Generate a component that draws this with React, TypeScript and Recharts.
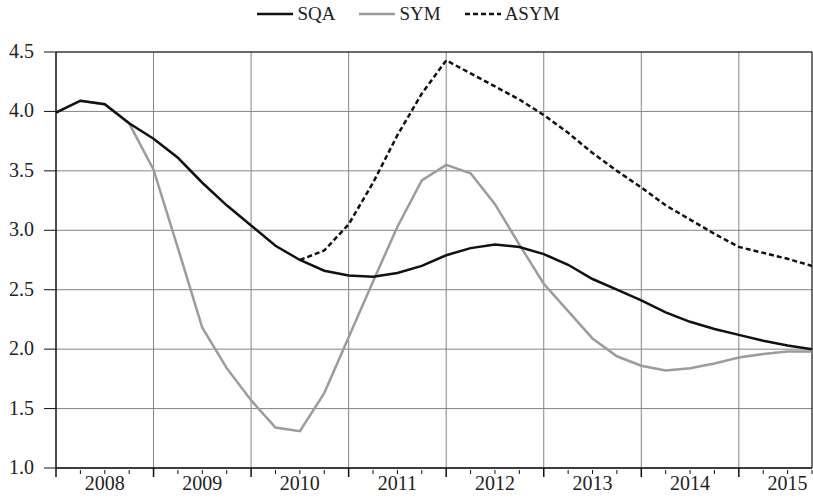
import React from 'react';
import { LineChart, Line, XAxis, YAxis, CartesianGrid, ReferenceLine } from 'recharts';

// quarterly observations, 2008Q1 .. 2015Q4
const quarters = Array.from({ length: 32 }, (_, i) => i);
const years = ['2008', '2009', '2010', '2011', '2012', '2013', '2014', '2015'];

const sqa = [
  3.99, 4.09, 4.06, 3.9, 3.77, 3.61, 3.4, 3.21, 3.04, 2.87, 2.75, 2.66, 2.62, 2.61, 2.64, 2.7,
  2.79, 2.85, 2.88, 2.86, 2.8, 2.71, 2.59, 2.5, 2.41, 2.31, 2.23, 2.17, 2.12, 2.07, 2.03, 2.0,
];
const sym = [
  3.99, 4.09, 4.06, 3.9, 3.51, 2.85, 2.18, 1.84, 1.57, 1.34, 1.31, 1.63, 2.1, 2.57, 3.03, 3.42,
  3.55, 3.48, 3.22, 2.88, 2.55, 2.32, 2.09, 1.94, 1.86, 1.82, 1.84, 1.88, 1.93, 1.96, 1.98, 1.98,
];
const asym = [
  null, null, null, null, null, null, null, null, null, null, 2.75, 2.83, 3.05, 3.4, 3.8, 4.15,
  4.43, 4.32, 4.21, 4.1, 3.97, 3.82, 3.65, 3.5, 3.36, 3.21, 3.09, 2.97, 2.86, 2.81, 2.76, 2.7,
];

const yTicks = [1.0, 1.5, 2.0, 2.5, 3.0, 3.5, 4.0, 4.5];
const yearLines = [4, 8, 12, 16, 20, 24, 28];

const data = quarters.map((q) => ({ q, SQA: sqa[q], SYM: sym[q], ASYM: asym[q] }));

const FONT = '"Liberation Serif", "DejaVu Serif", serif';
const GRID = '#858585';

const XTick = ({ x, y, payload }: any) => {
  const q = payload.value;
  const major = q % 4 === 0;
  return (
    <g>
      <line x1={x} x2={x} y1={major ? y : y + 2} y2={major ? y + 9 : y + 6} stroke="#111" strokeWidth={major ? 1.5 : 1} />
      {q % 4 === 2 && (
        <text x={x} y={y + 22} textAnchor="middle" fontFamily={FONT} fontSize={20} fill="#222">
          {years[Math.floor(q / 4)]}
        </text>
      )}
    </g>
  );
};

const YTick = ({ x, y, payload }: any) => (
  <g>
    <line x1={x - 12} x2={x} y1={y} y2={y} stroke="#111" strokeWidth={1} />
    <text x={x - 22} y={y + 6} textAnchor="end" fontFamily={FONT} fontSize={20} fill="#222">
      {payload.value.toFixed(1)}
    </text>
  </g>
);

const LegendBar = () => (
  <div
    style={{
      position: 'absolute', top: 3, left: 0, width: 813, display: 'flex', justifyContent: 'center',
      fontFamily: FONT, fontSize: 19, color: '#222', lineHeight: '22px', paddingLeft: 14,
    }}
  >
    {[
      { name: 'SQA', color: '#111', dash: undefined },
      { name: 'SYM', color: '#9c9c9c', dash: undefined },
      { name: 'ASYM', color: '#111', dash: '5 3' },
    ].map((s) => (
      <span key={s.name} style={{ display: 'flex', alignItems: 'center', marginRight: 24 }}>
        <svg width={36} height={10} style={{ marginRight: 4 }}>
          <line x1={0} x2={36} y1={5} y2={5} stroke={s.color} strokeWidth={2.5} strokeDasharray={s.dash} />
        </svg>
        {s.name}
      </span>
    ))}
  </div>
);

export default function App() {
  return (
    <div style={{ position: 'absolute', left: 0, top: 0, width: 813, height: 500, background: '#fff' }}>
      <LegendBar />
      <LineChart width={813} height={500} data={data} margin={{ top: 52, right: 1, bottom: 0, left: 0 }}>
        <CartesianGrid vertical={false} stroke={GRID} horizontalValues={yTicks} />
        {yearLines.map((q) => (
          <ReferenceLine key={q} x={q} stroke={GRID} strokeWidth={1} />
        ))}
        <ReferenceLine y={4.5} stroke="#111" strokeWidth={1.2} />
        <ReferenceLine x={31} stroke="#111" strokeWidth={1.2} />
        <XAxis
          type="number"
          dataKey="q"
          domain={[0, 31]}
          ticks={quarters}
          interval={0}
          height={32}
          tickSize={0}
          tickMargin={0}
          tickLine={false}
          axisLine={{ stroke: '#111', strokeWidth: 1.5 }}
          tick={<XTick />}
        />
        <YAxis
          type="number"
          domain={[1, 4.5]}
          ticks={yTicks}
          interval={0}
          width={56}
          tickSize={0}
          tickMargin={0}
          tickLine={false}
          axisLine={{ stroke: '#111', strokeWidth: 1.5 }}
          tick={<YTick />}
        />
        <Line dataKey="SYM" stroke="#9c9c9c" strokeWidth={2.5} dot={false} isAnimationActive={false} />
        <Line dataKey="SQA" stroke="#111" strokeWidth={2.5} dot={false} isAnimationActive={false} />
        <Line dataKey="ASYM" stroke="#111" strokeWidth={2.5} strokeDasharray="5 3" dot={false} connectNulls={false} isAnimationActive={false} />
      </LineChart>
    </div>
  );
}
